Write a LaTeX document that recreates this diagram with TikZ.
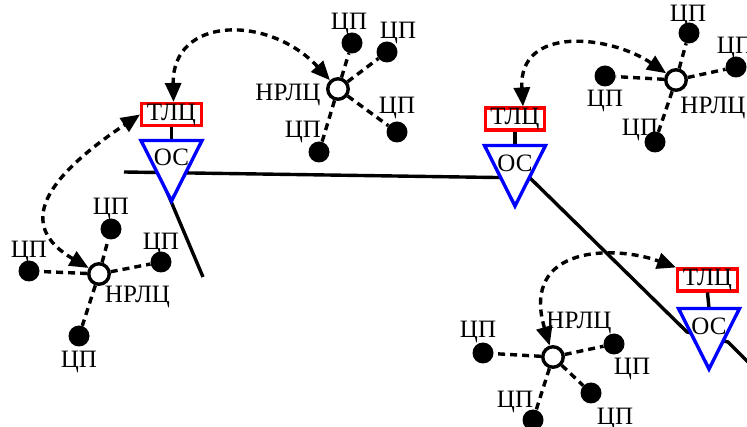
\documentclass[tikz,border=0pt]{standalone}
\usepackage{fontspec}
\setmainfont{Liberation Serif}
\usetikzlibrary{arrows.meta}
\newcommand\lblfont{\fontsize{25}{28}\selectfont}
\begin{document}
\begin{tikzpicture}[x=1pt,y=-1pt,
  rail/.style={line width=3.4pt},
  tlcbox/.style={draw=red, line width=3.4pt, minimum width=59.5pt, minimum height=21.5pt, inner sep=0pt, font=\lblfont},
  ostri/.style={draw=blue, line width=3.4pt, fill=white, line join=miter},
  hub/.style={circle, draw, line width=3.4pt, fill=white, minimum size=20.5pt, inner sep=0pt},
  cp/.style={circle, fill=black, minimum size=21pt, inner sep=0pt},
  lbl/.style={font=\lblfont, inner sep=0pt, anchor=base},
  spoke/.style={line width=3.4pt, dash pattern=on 7pt off 5pt},
  link/.style={spoke, {Triangle[length=19pt,width=16pt]}-{Triangle[length=19pt,width=16pt]}}
]
\useasboundingbox (0,0) rectangle (747,427);
\clip (0,0) rectangle (747,427);

% railway lines
\draw[rail] (124,172) -- (530,178) -- (687,332) -- (728,342) -- (762,376);
\draw[rail] (158.6,172) -- (203,277);

% stations: control box, stem and triangle
\node[tlcbox] (tl1) at (171.5,114.5) {ТЛЦ};
\node[tlcbox] (tl2) at (515,119) {ТЛЦ};
\node[tlcbox] (tl3) at (707.5,280) {ТЛЦ};
\coordinate (os1top) at (171.5,140.5);
\coordinate (os2top) at (515,145.5);
\coordinate (os3top) at (709,308.5);
\draw[rail] (tl1.south) -- (os1top);
\draw[rail] (tl2.south) -- (os2top);
\draw[rail] (tl3.south) -- (os3top);
\draw[ostri] (141,140.5) -- (202,140.5) -- (171.5,201) -- cycle;
\draw[ostri] (484.5,145.5) -- (545.5,145.5) -- (515,206) -- cycle;
\draw[ostri] (678.5,308.5) -- (739.5,308.5) -- (709,369) -- cycle;
\node[lbl] (os1) at (171.5,166) {ОС};
\node[lbl] (os2) at (515,171.5) {ОС};
\node[lbl] (os3) at (709,334.5) {ОС};

% hubs
\node[hub] (hub1) at (99,274) {};
\node[hub] (hub2) at (338,89) {};
\node[hub] (hub3) at (676,80) {};
\node[hub] (hub4) at (553,357) {};
\node[lbl] (hl1) at (137.5,303) {НРЛЦ};
\node[lbl] (hl2) at (288,101) {НРЛЦ};
\node[lbl] (hl3) at (713,113.5) {НРЛЦ};
\node[lbl] (hl4) at (579,328.5) {НРЛЦ};

% points
\node[cp] (a1) at (29,271) {};
\node[cp] (a2) at (111,229) {};
\node[cp] (a3) at (161,262) {};
\node[cp] (a4) at (79,336) {};
\node[cp] (b1) at (352,43) {};
\node[cp] (b2) at (387,52) {};
\node[cp] (b3) at (397,132) {};
\node[cp] (b4) at (319,152) {};
\node[cp] (c1) at (689,33) {};
\node[cp] (c2) at (736,67) {};
\node[cp] (c3) at (605,76) {};
\node[cp] (c4) at (655,142) {};
\node[cp] (d1) at (483,353) {};
\node[cp] (d2) at (614,344) {};
\node[cp] (d3) at (591,393) {};
\node[cp] (d4) at (533,420) {};

\node[lbl] at (29,258) {ЦП};
\node[lbl] at (111,215) {ЦП};
\node[lbl] at (161,250) {ЦП};
\node[lbl] at (79,368) {ЦП};
\node[lbl] at (349,29.5) {ЦП};
\node[lbl] at (398,39) {ЦП};
\node[lbl] at (397,114) {ЦП};
\node[lbl] at (303,138) {ЦП};
\node[lbl] at (688,22) {ЦП};
\node[lbl] at (735,54) {ЦП};
\node[lbl] at (605,107) {ЦП};
\node[lbl] at (640,136) {ЦП};
\node[lbl] at (478,338) {ЦП};
\node[lbl] at (632,375) {ЦП};
\node[lbl] at (615,424.5) {ЦП};
\node[lbl] at (515,407) {ЦП};

% spokes
\foreach \p in {a1,a2,a3,a4} \draw[spoke] (hub1) -- (\p);
\foreach \p in {b1,b2,b3,b4} \draw[spoke] (hub2) -- (\p);
\foreach \p in {c1,c2,c3,c4} \draw[spoke] (hub3) -- (\p);
\foreach \p in {d1,d2,d3,d4} \draw[spoke] (hub4) -- (\p);

% links between hubs and control boxes
\draw[link] (hub2) .. controls (270,15) and (172,15) .. ([xshift=2pt]tl1.north);
\draw[link] (hub1) .. controls (15,225) and (45,178) .. (tl1.west);
\draw[link] (hub3) .. controls (610,35) and (518,25) .. ([xshift=8pt]tl2.north);
\draw[link] (hub4) .. controls (520,245) and (615,245) .. (tl3.north west);
\end{tikzpicture}
\end{document}
